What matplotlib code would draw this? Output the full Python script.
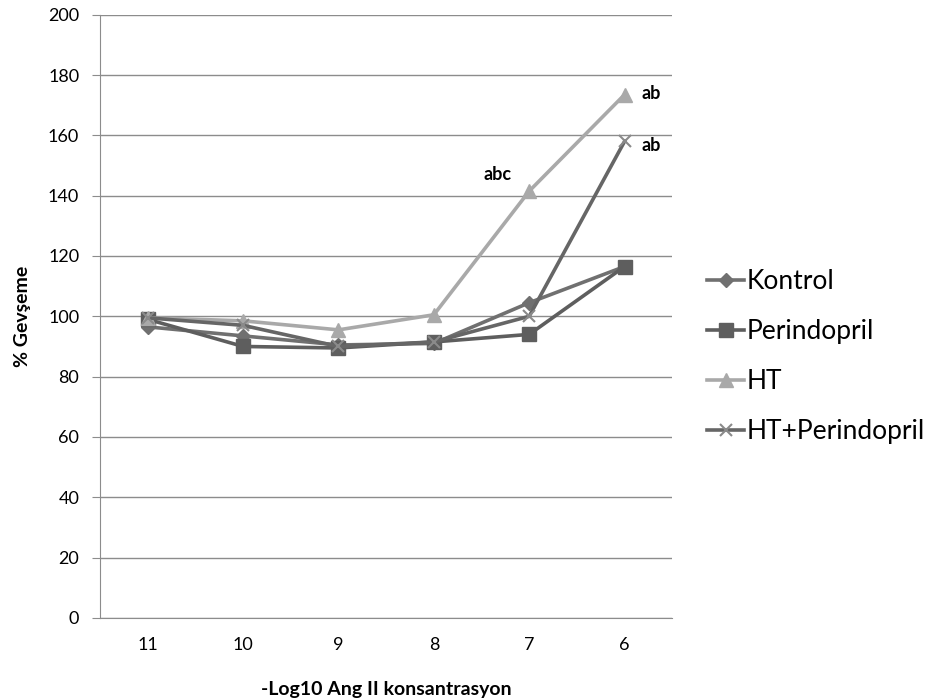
import matplotlib.pyplot as plt

plt.rcParams['font.family'] = ['Lato', 'DejaVu Sans']

konsantrasyon = ['11', '10', '9', '8', '7', '6']
kontrol = [96.5, 93.5, 90.5, 91.0, 104.5, 116.5]
perindopril = [99.0, 90.0, 89.5, 91.5, 94.0, 116.5]
ht = [99.5, 98.5, 95.5, 100.5, 141.5, 173.5]
ht_perindopril = [99.5, 97.0, 90.0, 91.5, 100.0, 158.0]

fig = plt.figure(figsize=(9.35, 6.99), dpi=100)
ax = fig.add_axes([0.107, 0.116, 0.612, 0.863])

x = range(len(konsantrasyon))
ax.plot(x, kontrol, color='#707070', lw=2.6, marker='D', ms=7, label='Kontrol', zorder=3)
ax.plot(x, perindopril, color='#5e5e5e', lw=2.6, marker='s', ms=10, label='Perindopril', zorder=3)
ax.plot(x, ht, color='#a9a9a9', lw=2.6, marker='^', ms=10, label='HT', zorder=3)
ax.plot(x, ht_perindopril, color='#666666', lw=2.6, marker='x', ms=9, mew=1.5,
        mec='#8a8a8a', label='HT+Perindopril', zorder=4)

ax.annotate('ab', xy=(5, ht[5]), xytext=(12, 1), textcoords='offset points',
            fontsize=13, fontweight='bold', va='center')
ax.annotate('ab', xy=(5, ht_perindopril[5]), xytext=(12, -3), textcoords='offset points',
            fontsize=13, fontweight='bold', va='center')
ax.annotate('abc', xy=(4, ht[4]), xytext=(-13, 12), textcoords='offset points',
            fontsize=13, fontweight='bold', va='center', ha='right')

ax.set_xlim(-0.5, 5.5)
ax.set_ylim(0, 200)
ax.set_yticks(range(0, 201, 20))
ax.set_xticks(list(x))
ax.set_xticklabels(konsantrasyon)
ax.grid(axis='y', color='#8c8c8c', lw=1)
ax.set_axisbelow(True)
for s in ['top', 'right']:
    ax.spines[s].set_visible(False)
for s in ['left', 'bottom']:
    ax.spines[s].set_color('#8c8c8c')
ax.tick_params(axis='y', length=6, color='#8c8c8c', labelsize=13, pad=9)
ax.tick_params(axis='x', length=0, labelsize=13, pad=14)

ax.set_xlabel('-Log10 Ang II konsantrasyon', fontsize=14, fontweight='bold', labelpad=20)
ax.set_ylabel('% Gevşeme', fontsize=14, fontweight='bold', labelpad=12)

ax.legend(loc='center left', bbox_to_anchor=(1.02, 0.433), frameon=False, fontsize=19,
          handlelength=1.4, handletextpad=0.1, labelspacing=0.95)

fig.savefig('out.png', dpi=100)
